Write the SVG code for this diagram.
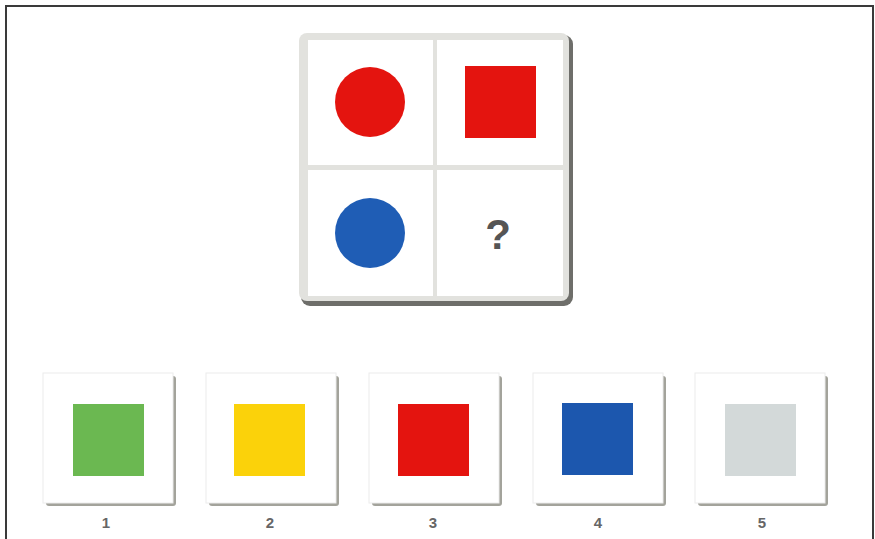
<svg xmlns="http://www.w3.org/2000/svg" width="875" height="539" viewBox="0 0 875 539">
<style>
.frame{fill:none;stroke:#3a3a3a;stroke-width:2}
.cell{fill:#ffffff}
.cardShadow{fill:#a3a39b}
.card{fill:#ffffff;stroke:#ececec;stroke-width:1}
.lbl{font-family:"Liberation Sans",Arial,sans-serif;font-weight:bold;font-size:15px;fill:#666;text-anchor:middle}
.q{font-family:"Liberation Sans",Arial,sans-serif;font-weight:bold;font-size:42px;fill:#555;text-anchor:middle}
</style>
<rect x="0" y="0" width="875" height="539" fill="#ffffff"/>
<polyline class="frame" points="6,539 6,6 873,6 873,539"/>
<g id="matrix">
  <rect x="301" y="35" width="272" height="271" rx="9" fill="#6e6e6a"/>
  <rect x="299" y="33" width="270" height="268" rx="8" fill="#e2e2de"/>
  <g id="cell-tl"><rect class="cell" x="308" y="40" width="125" height="125"/><circle cx="370" cy="102" r="35" fill="#e4140f"/></g>
  <g id="cell-tr"><rect class="cell" x="437" y="40" width="126" height="125"/><rect x="465" y="66" width="71" height="72" fill="#e4140f"/></g>
  <g id="cell-bl"><rect class="cell" x="308" y="170" width="125" height="126"/><circle cx="370" cy="233" r="35" fill="#1f5db5"/></g>
  <g id="cell-br"><rect class="cell" x="437" y="170" width="126" height="126"/><text class="q" x="498" y="249">?</text></g>
</g>
<g id="option-1">
  <rect class="cardShadow" x="46" y="376" width="130" height="130" rx="3"/>
  <rect class="card" x="43" y="373" width="130" height="130"/>
  <rect x="73" y="404" width="71" height="72" fill="#6bb851"/>
  <text class="lbl" x="106" y="528">1</text>
</g>
<g id="option-2">
  <rect class="cardShadow" x="209" y="376" width="130" height="130" rx="3"/>
  <rect class="card" x="206" y="373" width="130" height="130"/>
  <rect x="234" y="404" width="71" height="72" fill="#fbd20a"/>
  <text class="lbl" x="270" y="528">2</text>
</g>
<g id="option-3">
  <rect class="cardShadow" x="372" y="376" width="130" height="130" rx="3"/>
  <rect class="card" x="369" y="373" width="130" height="130"/>
  <rect x="398" y="404" width="71" height="72" fill="#e4140f"/>
  <text class="lbl" x="433" y="528">3</text>
</g>
<g id="option-4">
  <rect class="cardShadow" x="536" y="376" width="130" height="130" rx="3"/>
  <rect class="card" x="533" y="373" width="130" height="130"/>
  <rect x="562" y="403" width="71" height="72" fill="#1c57ae"/>
  <text class="lbl" x="598" y="528">4</text>
</g>
<g id="option-5">
  <rect class="cardShadow" x="698" y="376" width="130" height="130" rx="3"/>
  <rect class="card" x="695" y="373" width="130" height="130"/>
  <rect x="725" y="404" width="71" height="72" fill="#d3d9d9"/>
  <text class="lbl" x="762" y="528">5</text>
</g>
<g id="connectors"></g>
</svg>
